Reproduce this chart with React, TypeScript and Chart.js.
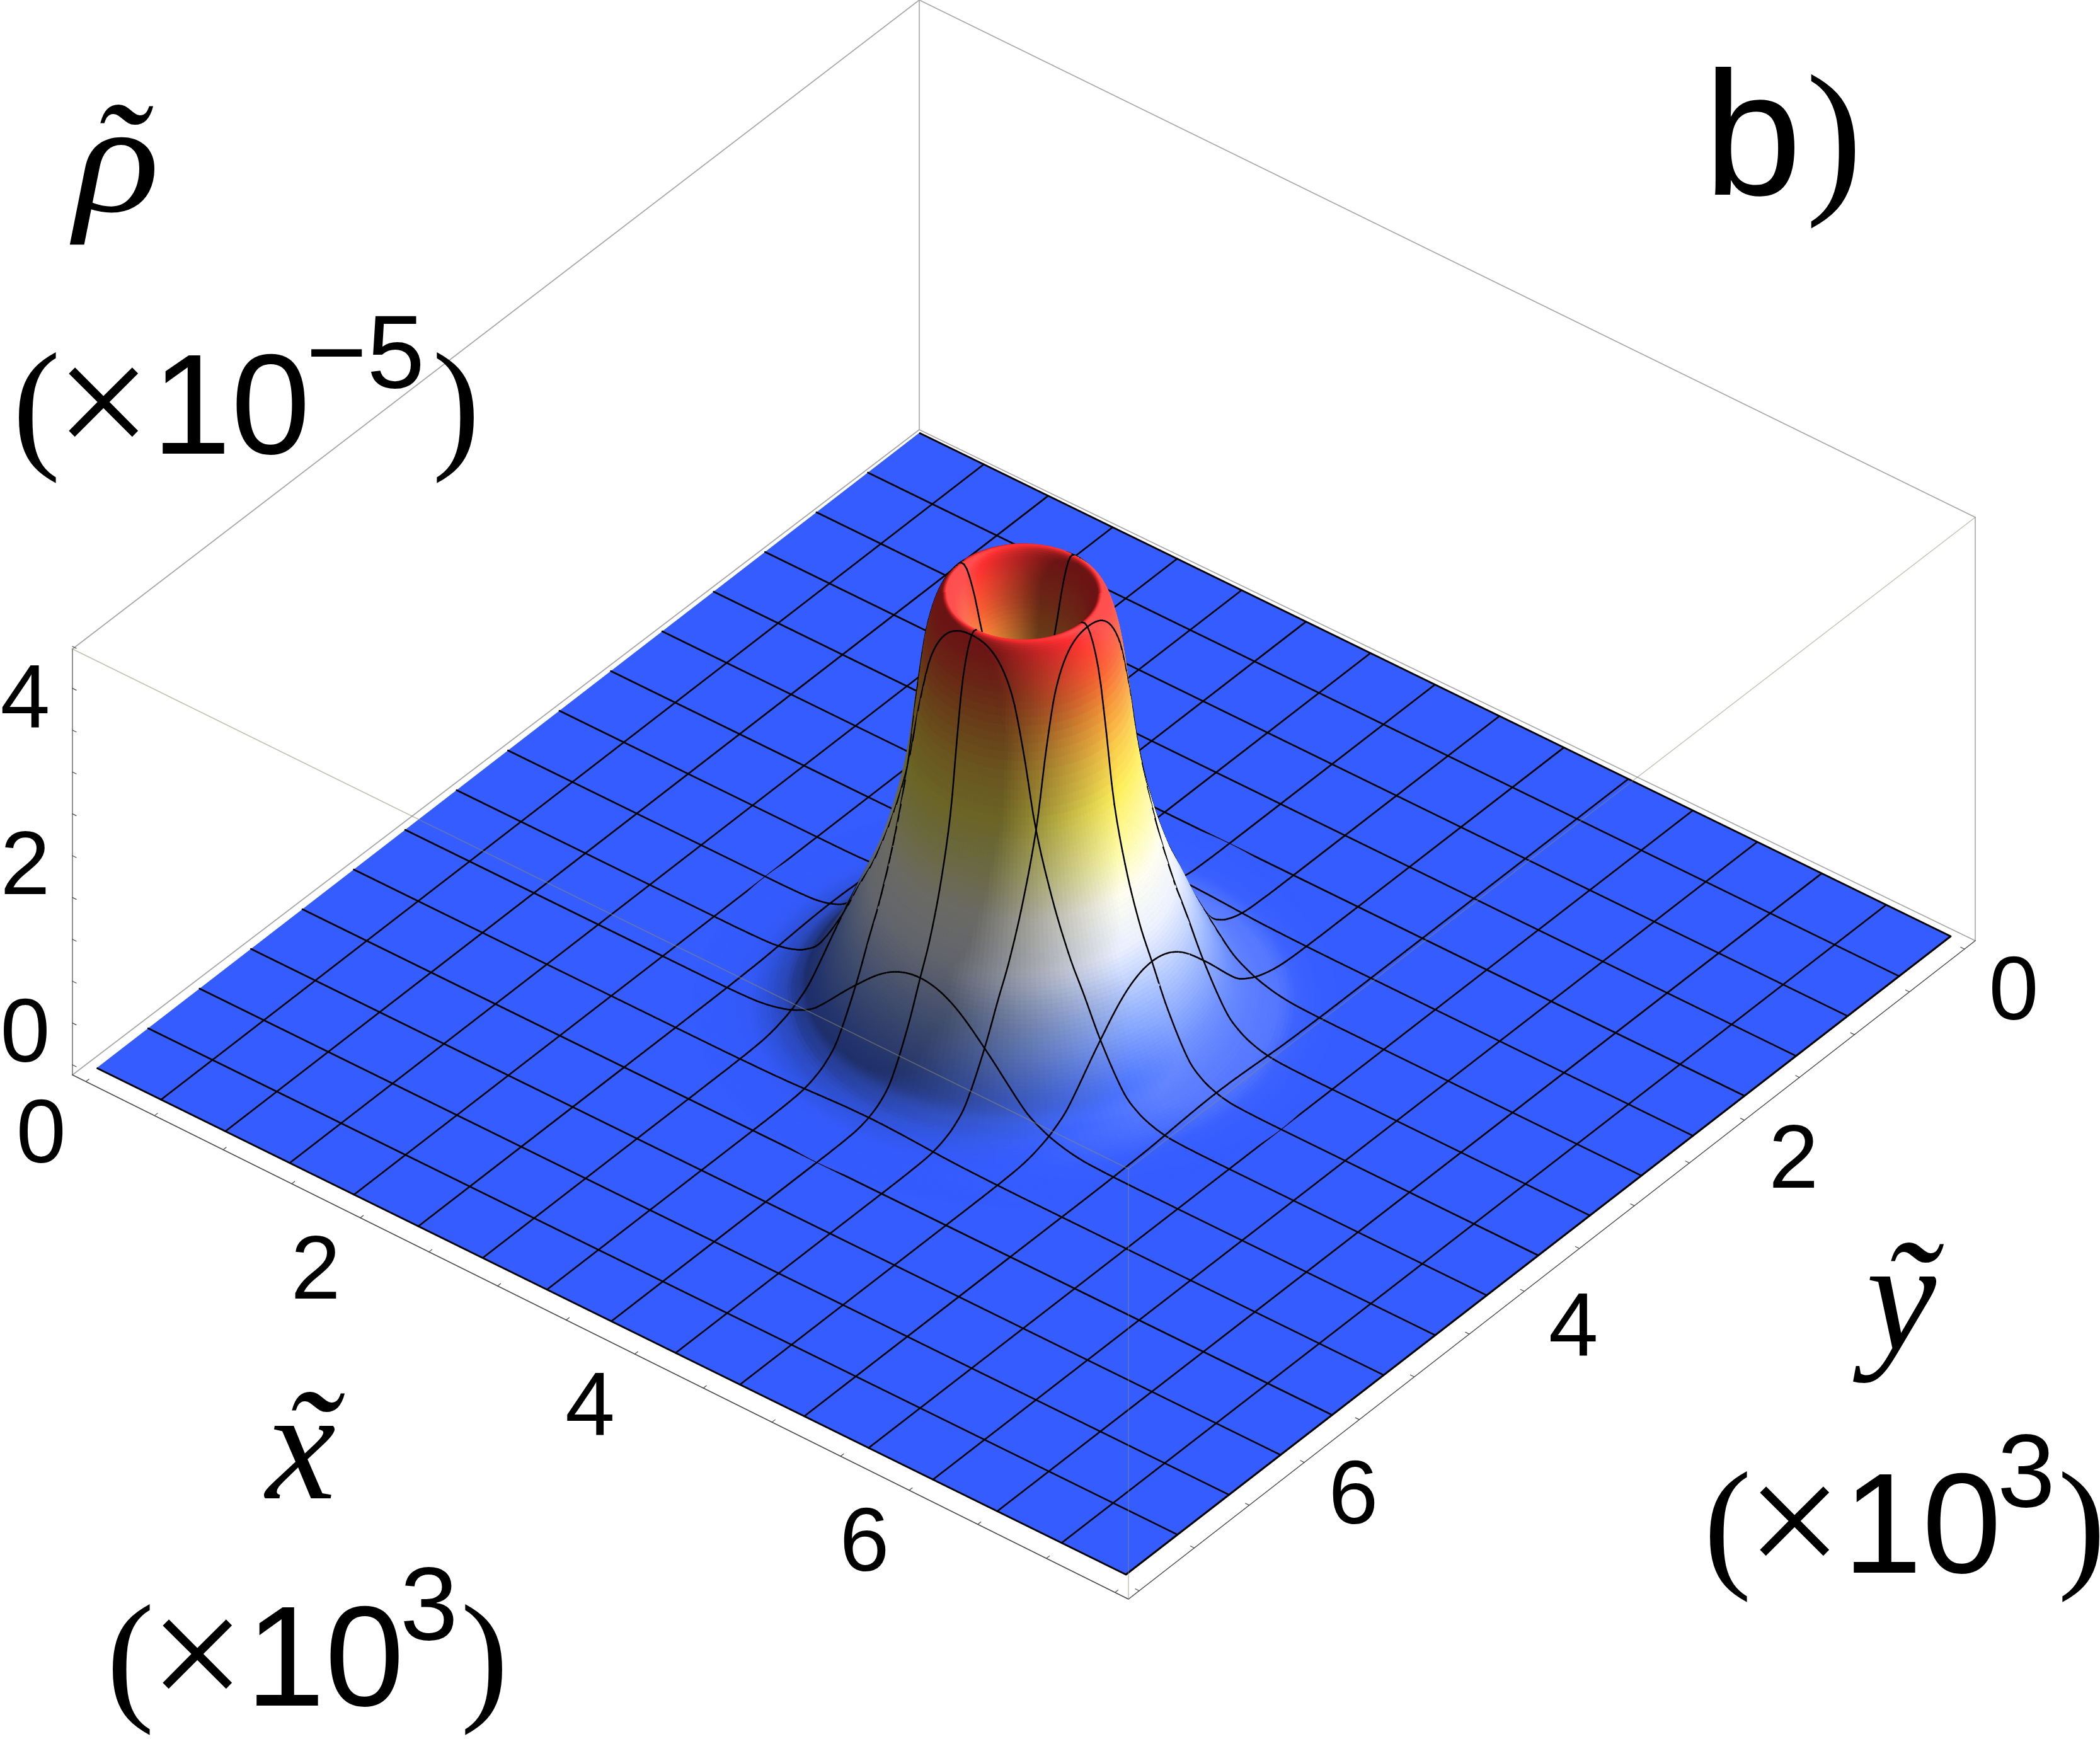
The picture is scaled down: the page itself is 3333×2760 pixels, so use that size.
import React, { useEffect, useRef } from "react";
import { Chart, registerables, ScatterController } from "chart.js";

Chart.register(...registerables);

// ---- data ----
const domainMax = 7.5; // x and y, units of 10^3
const meshCells = 16;
const xTicks = [0, 0.5, 1, 1.5, 2, 2.5, 3, 3.5, 4, 4.5, 5, 5.5, 6, 6.5, 7, 7.5];
const yTicks = [0, 0.5, 1, 1.5, 2, 2.5, 3, 3.5, 4, 4.5, 5, 5.5, 6, 6.5, 7, 7.5];
const zTicks = [0, 0.5, 1, 1.5, 2, 2.5, 3, 3.5, 4, 4.5, 5];
const xTickLabels = ["0", "2", "4", "6"];
const yTickLabels = ["0", "2", "4", "6"];
const zTickLabels = ["0", "2", "4"];
const centerX = 3.75;
const centerY = 3.75;
// radial density profile around the centre
const profileRadius = [0, 0.1, 0.2, 0.3, 0.36, 0.42, 0.48, 0.55, 0.6, 0.66, 0.75, 0.85, 0.94, 1.05, 1.2, 1.3, 1.4, 1.5, 1.6, 1.75, 1.875];
const profileDensity = [3.05, 3.2, 3.6, 4.2, 4.62, 4.88, 4.84, 4.42, 3.8, 2.95, 2.2, 1.62, 1.24, 0.78, 0.3, 0.14, 0.06, 0.02, 0.007, 0.001, 0];
// colour map: density -> colour
const colourDensity = [0, 0.4, 0.9, 1.5, 2.0, 2.4, 3.0, 3.5, 4.0, 4.4, 4.8, 5];
const colourRed = [52, 85, 150, 235, 255, 255, 255, 252, 248, 252, 255, 255];
const colourGreen = [92, 125, 180, 240, 255, 252, 240, 205, 150, 95, 50, 45];
const colourBlue = [255, 255, 255, 255, 240, 170, 90, 75, 58, 52, 50, 50];

// ---- view ----
const W = 3333;
const H = 2760;
const plateBack = [1459, 687];
const plateRight = [3096, 1486];
const plateFront = [1787, 2499];
const plateLeft = [153.5, 1695];
const boxBack = [1459, 682];
const boxRight = [3135, 1493];
const boxFront = [1791, 2538];
const boxLeft = [115, 1706];
const boxPad = 0.098;
const zPixels = 132.8;
const SECTORS = 200;

type P = { x: number; y: number };

// A dataset type that paints a list of facets and mesh pieces in order,
// each vertex going through the chart's own x and y scales.
class FacetController extends (ScatterController as any) {
  static id = "facets";
  update() {}
  draw() {
    const chart = (this as any).chart;
    const ctx = chart.ctx as CanvasRenderingContext2D;
    const xs = chart.scales.x;
    const ys = chart.scales.y;
    const items = (this as any).getDataset().data as any[];
    ctx.save();
    ctx.lineJoin = "round";
    ctx.lineCap = "round";
    for (const it of items) {
      ctx.beginPath();
      it.pts.forEach((p: P, i: number) => {
        const px = xs.getPixelForValue(p.x);
        const py = ys.getPixelForValue(p.y);
        if (i === 0) ctx.moveTo(px, py);
        else ctx.lineTo(px, py);
      });
      if (it.fillColor) {
        ctx.closePath();
        ctx.fillStyle = it.fillColor;
        ctx.fill();
      }
      ctx.strokeStyle = it.strokeColor;
      ctx.lineWidth = it.width;
      ctx.stroke();
    }
    ctx.restore();
  }
}
Chart.register(FacetController as any);

function bilinear(u: number, v: number, b: number[], r: number[], f: number[], l: number[]): P {
  return {
    x: (1 - u) * (1 - v) * b[0] + u * (1 - v) * r[0] + u * v * f[0] + (1 - u) * v * l[0],
    y: (1 - u) * (1 - v) * b[1] + u * (1 - v) * r[1] + u * v * f[1] + (1 - u) * v * l[1],
  };
}
function project(x: number, y: number, z: number): P {
  const p = bilinear(x / domainMax, y / domainMax, plateBack, plateRight, plateFront, plateLeft);
  return { x: p.x, y: p.y - z * zPixels };
}
function boxProject(x: number, y: number, lift = 0): P {
  const span = domainMax + 2 * boxPad;
  const p = bilinear((x + boxPad) / span, (y + boxPad) / span, boxBack, boxRight, boxFront, boxLeft);
  return { x: p.x, y: p.y - lift };
}

function densityAt(r: number): number {
  const n = profileRadius.length;
  if (r >= profileRadius[n - 1]) return 0;
  let i = 0;
  while (i < n - 2 && r > profileRadius[i + 1]) i++;
  const x0 = profileRadius[i];
  const x1 = profileRadius[i + 1];
  const h = x1 - x0;
  const t = (r - x0) / h;
  const y0 = profileDensity[i];
  const y1 = profileDensity[i + 1];
  const slope = (a: number) => {
    if (a <= 0) return 0;
    if (a >= n - 1) return 0;
    return (profileDensity[a + 1] - profileDensity[a - 1]) / (profileRadius[a + 1] - profileRadius[a - 1]);
  };
  const m0 = slope(i) * h;
  const m1 = slope(i + 1) * h;
  const t2 = t * t;
  const t3 = t2 * t;
  return Math.max(0, (2 * t3 - 3 * t2 + 1) * y0 + (t3 - 2 * t2 + t) * m0 + (-2 * t3 + 3 * t2) * y1 + (t3 - t2) * m1);
}
function heightAt(x: number, y: number): number {
  return densityAt(Math.hypot(x - centerX, y - centerY));
}
function mapColour(z: number): number[] {
  const n = colourDensity.length;
  let i = 0;
  while (i < n - 2 && z > colourDensity[i + 1]) i++;
  const t = Math.max(0, Math.min(1, (z - colourDensity[i]) / (colourDensity[i + 1] - colourDensity[i])));
  return [
    colourRed[i] + (colourRed[i + 1] - colourRed[i]) * t,
    colourGreen[i] + (colourGreen[i + 1] - colourGreen[i]) * t,
    colourBlue[i] + (colourBlue[i + 1] - colourBlue[i]) * t,
  ];
}
function shadedColour(x: number, y: number): string {
  const e = 0.02;
  const z = heightAt(x, y);
  const k = 0.6;
  const dx = (k * (heightAt(x + e, y) - heightAt(x - e, y))) / (2 * e);
  const dy = (k * (heightAt(x, y + e) - heightAt(x, y - e))) / (2 * e);
  const len = Math.hypot(dx, dy, 1);
  const nx = -dx / len;
  const ny = -dy / len;
  const nz = 1 / len;
  // light from the right, a little to the front
  const phi = (10 * Math.PI) / 180;
  const er = [Math.SQRT1_2, -Math.SQRT1_2];
  const ef = [Math.SQRT1_2, Math.SQRT1_2];
  const lx = Math.cos(phi) * er[0] + Math.sin(phi) * ef[0];
  const ly = Math.cos(phi) * er[1] + Math.sin(phi) * ef[1];
  const lz = 0.7;
  const lh = 0.714;
  const dot = Math.max(0, nz * lz + (nx * lx + ny * ly) * lh);
  const amb = 0.42;
  const f = Math.min(1.12, amb + ((1 - amb) / lz) * dot);
  const c = mapColour(z);
  const out = c.map((v) => Math.max(0, Math.min(255, f <= 1 ? v * f : v + (255 - v) * (f - 1) * 1.3)));
  return `rgb(${out[0] | 0},${out[1] | 0},${out[2] | 0})`;
}

function polyline(points: P[], color: string, width: number) {
  return {
    data: points,
    showLine: true,
    fill: false,
    borderColor: color,
    borderWidth: width,
    pointRadius: 0,
    borderCapStyle: "round",
    borderJoinStyle: "round",
  };
}
function polygon(points: P[], color: string, borderColor: string, width: number) {
  return {
    data: points,
    showLine: true,
    fill: "shape",
    backgroundColor: color,
    borderColor,
    borderWidth: width,
    pointRadius: 0,
    borderJoinStyle: "round",
  };
}

function buildLayers() {
  const layers: any[] = [];
  const back = "#a6a6a6";
  const dark = "#4a4a4a";
  const top = 676;
  const bL = boxProject(-boxPad, domainMax + boxPad);
  const bB = boxProject(-boxPad, -boxPad);
  const bR = boxProject(domainMax + boxPad, -boxPad);
  const bF = boxProject(domainMax + boxPad, domainMax + boxPad);
  const lift = (p: P, d: number) => ({ x: p.x, y: p.y - d });
  // far faces of the box
  layers.push(polyline([lift(bL, top), lift(bB, top + 6), lift(bR, top - 4)], back, 1.6));
  layers.push(polyline([bB, lift(bB, top + 6)], back, 1.6));
  layers.push(polyline([bR, lift(bR, top - 4)], back, 1.6));
  layers.push(polyline([bL, bB, bR], back, 1.6));
  layers.push(polyline([bL, lift(bL, top)], "#777777", 1.6));
  layers.push(polyline([bL, bF, bR], dark, 1.5));
  // ticks
  const d0 = project(0, 0, 0);
  for (const t of xTicks) {
    const a = boxProject(t, domainMax + boxPad);
    const d = project(0, -0.028, 0);
    layers.push(polyline([a, { x: a.x + d.x - d0.x, y: a.y + d.y - d0.y }], dark, 1.2));
  }
  for (const t of yTicks) {
    const a = boxProject(domainMax + boxPad, t);
    const d = project(-0.028, 0, 0);
    layers.push(polyline([a, { x: a.x + d.x - d0.x, y: a.y + d.y - d0.y }], dark, 1.2));
  }
  for (const t of zTicks) {
    const a = lift(bL, 16 + t * zPixels);
    layers.push(polyline([a, { x: a.x + 6, y: a.y + 3 }], dark, 1.2));
  }
  // flat plate
  layers.push(
    polygon(
      [project(0, 0, 0), project(domainMax, 0, 0), project(domainMax, domainMax, 0), project(0, domainMax, 0)],
      "rgb(52,92,255)",
      "#000000",
      3
    )
  );
  const cell = domainMax / meshCells;
  const humpLow = 4;
  const humpHigh = 12;
  const lw = 2.6;
  // mesh lines on the flat part
  for (let k = 1; k < meshCells; k++) {
    const c = k * cell;
    if (k <= humpLow || k >= humpHigh) {
      layers.push(polyline([project(c, 0, 0), project(c, domainMax, 0)], "#000000", lw));
      layers.push(polyline([project(0, c, 0), project(domainMax, c, 0)], "#000000", lw));
    } else {
      const a = humpLow * cell;
      const b = humpHigh * cell;
      layers.push(polyline([project(c, 0, 0), project(c, a, 0)], "#000000", lw));
      layers.push(polyline([project(c, b, 0), project(c, domainMax, 0)], "#000000", lw));
      layers.push(polyline([project(0, c, 0), project(a, c, 0)], "#000000", lw));
      layers.push(polyline([project(b, c, 0), project(domainMax, c, 0)], "#000000", lw));
    }
  }
  // hump: facets and mesh pieces, sorted far to near by the screen row of their foot
  const items: any[] = [];
  const rings: number[] = [];
  for (let r = 0; r < 0.8; r += 0.007) rings.push(r);
  for (let r = 0.8; r < 1.3; r += 0.01) rings.push(r);
  for (let r = 1.3; r < 1.86; r += 0.02) rings.push(r);
  rings.push(1.875);
  const surf = (r: number, a: number) => {
    const x = centerX + r * Math.cos(a);
    const y = centerY + r * Math.sin(a);
    return project(x, y, heightAt(x, y));
  };
  for (let q = 0; q + 1 < rings.length; q++) {
    const r0 = rings[q];
    const r1 = rings[q + 1];
    for (let s = 0; s < SECTORS; s++) {
      const a0 = (s / SECTORS) * 2 * Math.PI;
      const a1 = ((s + 1) / SECTORS) * 2 * Math.PI;
      const rm = (r0 + r1) / 2;
      const am = (a0 + a1) / 2;
      const xm = centerX + rm * Math.cos(am);
      const ym = centerY + rm * Math.sin(am);
      const col = shadedColour(xm, ym);
      const foot = project(xm, ym, 0);
      items.push({
        x: foot.x,
        y: foot.y,
        depth: foot.y,
        pts: [surf(r0, a0), surf(r1, a0), surf(r1, a1), surf(r0, a1)],
        fillColor: col,
        strokeColor: col,
        width: 0.9,
      });
    }
  }
  const PIECES = 24;
  const lineStep = cell / PIECES;
  const segCount = (humpHigh - humpLow) * PIECES;
  const start = humpLow * cell;
  const addSeg = (xa: number, ya: number, xb: number, yb: number) => {
    const xm = (xa + xb) / 2;
    const ym = (ya + yb) / 2;
    const foot = project(xm, ym, 0);
    const r = Math.hypot(xm - centerX, ym - centerY);
    items.push({
      x: foot.x,
      y: foot.y,
      depth: foot.y + (r < 1 ? 3 : 7),
      pts: [project(xa, ya, heightAt(xa, ya)), project(xb, yb, heightAt(xb, yb))],
      strokeColor: "#000000",
      width: 2.5,
    });
  };
  for (let k = humpLow + 1; k < humpHigh; k++) {
    const c = k * cell;
    for (let i = 0; i < segCount; i++) {
      const a = start + i * lineStep;
      const b = a + lineStep;
      addSeg(c, a, c, b);
      addSeg(a, c, b, c);
    }
  }
  items.sort((p, q) => p.depth - q.depth);
  layers.push({ type: "facets", data: items, pointRadius: 0 });
  // near edges of the box, seen through
  const near = "rgba(140,140,115,0.55)";
  const fTop = lift(bF, 683);
  layers.push(polyline([lift(bL, top), fTop, lift(bR, top - 4)], near, 1.4));
  layers.push(polyline([fTop, bF], near, 1.4));
  return layers.reverse();
}

const SANS = '"Liberation Sans"';
const SERIF = '"Liberation Serif"';

const labelsPlugin = {
  id: "labels3d",
  afterDraw(chart: any) {
    const ctx = chart.ctx as CanvasRenderingContext2D;
    const put = (s: string, x: number, y: number, font: string, align: CanvasTextAlign = "left", sx = 1) => {
      ctx.save();
      ctx.font = font;
      ctx.textAlign = align;
      ctx.textBaseline = "alphabetic";
      ctx.fillStyle = "#000";
      ctx.translate(x, y);
      ctx.scale(sx, 1);
      ctx.fillText(s, 0, 0);
      ctx.restore();
    };
    const tick = `142px ${SANS}`;
    const mid = 50;
    xTickLabels.forEach((s) => {
      const a = boxProject(Number(s), domainMax + boxPad);
      put(s, a.x - 71, a.y + 78 + mid, tick, "center");
    });
    yTickLabels.forEach((s) => {
      const a = boxProject(domainMax + boxPad, Number(s));
      put(s, a.x + 78, a.y + 62 - 2.5 * Number(s) + mid, tick, "center");
    });
    zTickLabels.forEach((s) => {
      const y = boxLeft[1] - 16 - Number(s) * zPixels;
      put(s, 40, y - 55 + mid, tick, "center");
    });
    const big = `226px ${SANS}`;
    const sup = `165px ${SANS}`;
    const par = `228px ${SERIF}`;
    const unit = (x0: number, base: number, exp: string) => {
      put("(", x0 + 4, base - 2, par);
      put("×", x0 + 72, base + 8, `270px ${SERIF}`);
      put("10", x0 + 225, base, big);
      put(exp, x0 + 470, base - 105, sup);
      const wid = exp.length > 1 ? 200 : 96;
      put(")", x0 + 470 + wid, base - 2, par);
    };
    unit(16, 720, "−5");
    unit(165, 2707, "3");
    unit(2700, 2496, "3");
    const ital = `italic 250px ${SERIF}`;
    put("ρ", 118, 335, ital, "left", 1.13);
    put("˜", 186, 335, ital, "center");
    put("x", 422, 2378, ital);
    put("˜", 490, 2378, ital, "center");
    put("y", 2962, 2141, ital);
    put("˜", 3028, 2141, ital, "center");
    put("b", 2704, 309, `280px ${SANS}`);
    put(")", 2866, 305, `270px ${SERIF}`);
  },
};

export default function App() {
  const ref = useRef<HTMLCanvasElement | null>(null);
  useEffect(() => {
    document.body.style.margin = "0";
    document.body.style.background = "#fff";
    const chart = new Chart(ref.current as HTMLCanvasElement, {
      type: "scatter",
      data: { datasets: buildLayers() as any },
      options: {
        animation: false,
        responsive: false,
        devicePixelRatio: 1,
        events: [],
        parsing: false,
        normalized: true,
        layout: { padding: 0 },
        plugins: { legend: { display: false }, tooltip: { enabled: false }, title: { display: false } },
        scales: {
          x: { type: "linear", min: 0, max: W, display: false },
          y: { type: "linear", min: 0, max: H, reverse: true, display: false },
        },
      } as any,
      plugins: [labelsPlugin as any],
    });
    return () => chart.destroy();
  }, []);
  return (
    <canvas
      ref={ref}
      width={W}
      height={H}
      style={{ display: "block", position: "absolute", left: 0, top: 0, width: W, height: H, background: "#fff" }}
    />
  );
}
